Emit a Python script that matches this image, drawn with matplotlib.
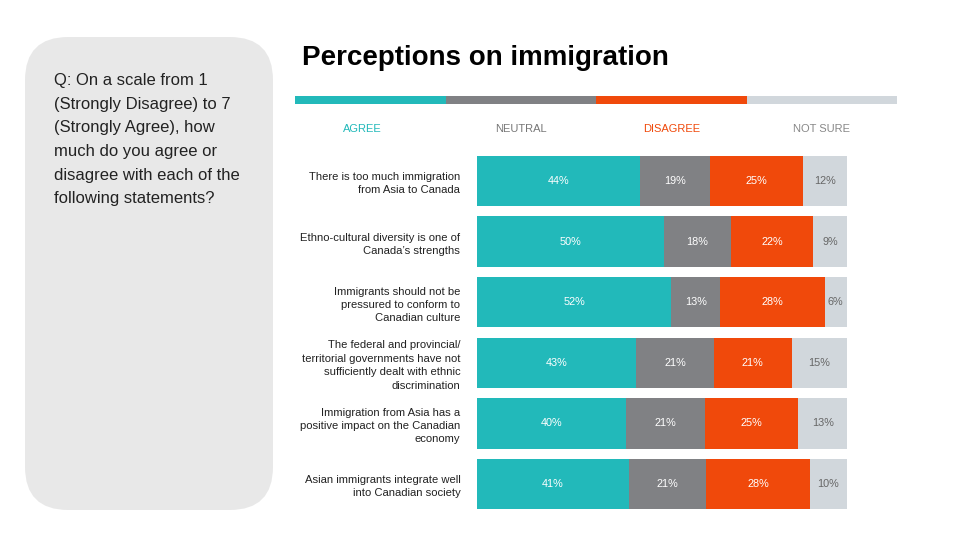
import matplotlib
matplotlib.use("Agg")
import matplotlib.pyplot as plt
from matplotlib.patches import FancyBboxPatch, Rectangle
import numpy as np

plt.rcParams['font.family'] = ['Liberation Sans', 'DejaVu Sans']

statements = [
    "There is too much immigration\nfrom Asia to Canada",
    "Ethno-cultural diversity is one of\nCanada\u2019s strengths",
    "Immigrants should not be\npressured to conform to\nCanadian culture",
    "The federal and provincial/\nterritorial governments have not\nsufficiently dealt with ethnic\ndiscrimination",
    "Immigration from Asia has a\npositive impact on the Canadian\neconomy",
    "Asian immigrants integrate well\ninto Canadian society",
]
categories = ["AGREE", "NEUTRAL", "DISAGREE", "NOT SURE"]
agree = [44, 50, 52, 43, 40, 41]
neutral = [19, 18, 13, 21, 21, 21]
disagree = [25, 22, 28, 21, 25, 28]
not_sure = [12, 9, 6, 15, 13, 10]

colors = ["#22B9BA", "#808184", "#F0490B", "#D1D7DC"]
label_colors = ["white", "white", "white", "#666666"]
legend_colors = ["#22B9BA", "#777777", "#F0490B", "#888888"]

W, H = 960, 540
fig = plt.figure(figsize=(9.6, 5.4), dpi=100)

def fx(px):
    return px / W

def fy(py):
    return 1 - py / H

# Left rounded box
box = FancyBboxPatch((fx(25), fy(510)), fx(248), (510 - 37) / H,
                     boxstyle="round,pad=0,rounding_size=0.045",
                     transform=fig.transFigure, facecolor="#E8E8E8",
                     edgecolor="none", mutation_aspect=W / H)
fig.patches.append(box)
question = ("Q: On a scale from 1\n(Strongly Disagree) to 7\n(Strongly Agree), how\n"
            "much do you agree or\ndisagree with each of the\nfollowing statements?")
fig.text(fx(54), fy(73), question, ha="left", va="top", fontsize=12,
         color="#222222", linespacing=1.72)

# Title
fig.text(fx(302), fy(58), "Perceptions on immigration", ha="left", va="center",
         fontsize=20, fontweight="bold", color="black")

# Top strip and legend labels
sx0, sx1 = 295, 897
seg = (sx1 - sx0) / 4
label_shift = [-8, 0, 0, 0]
for i, (cat, c) in enumerate(zip(categories, colors)):
    fig.patches.append(Rectangle((fx(sx0 + i * seg), fy(104)), fx(seg), 8 / H,
                                 transform=fig.transFigure, facecolor=c,
                                 edgecolor="none"))
    fig.text(fx(sx0 + i * seg + seg / 2 + label_shift[i]), fy(129), cat,
             ha="center", va="center", fontsize=8, color=legend_colors[i])

# Bars
ax = fig.add_axes([fx(477), fy(510), fx(847 - 477), (510 - 155) / H])
data = np.array([agree, neutral, disagree, not_sure], dtype=float)
totals = data.sum(axis=0)
shares = data / totals
y = np.arange(len(statements))
left = np.zeros(len(statements))
for k in range(4):
    ax.barh(y, shares[k], left=left, height=0.83, color=colors[k],
            edgecolor="none")
    for i in range(len(statements)):
        ax.text(left[i] + shares[k][i] / 2, y[i], f"{int(data[k][i])}%",
                ha="center", va="center", fontsize=7.8, color=label_colors[k])
    left += shares[k]

ax.set_xlim(0, 1)
ax.set_ylim(5.43, -0.43)
ax.set_yticks(y)
ax.set_yticklabels(statements, fontsize=8.1, color="#222222", linespacing=1.42)
ax.tick_params(axis="y", length=0, pad=12)
ax.set_xticks([])
for s in ax.spines.values():
    s.set_visible(False)

fig.savefig("out.png", dpi=100)
